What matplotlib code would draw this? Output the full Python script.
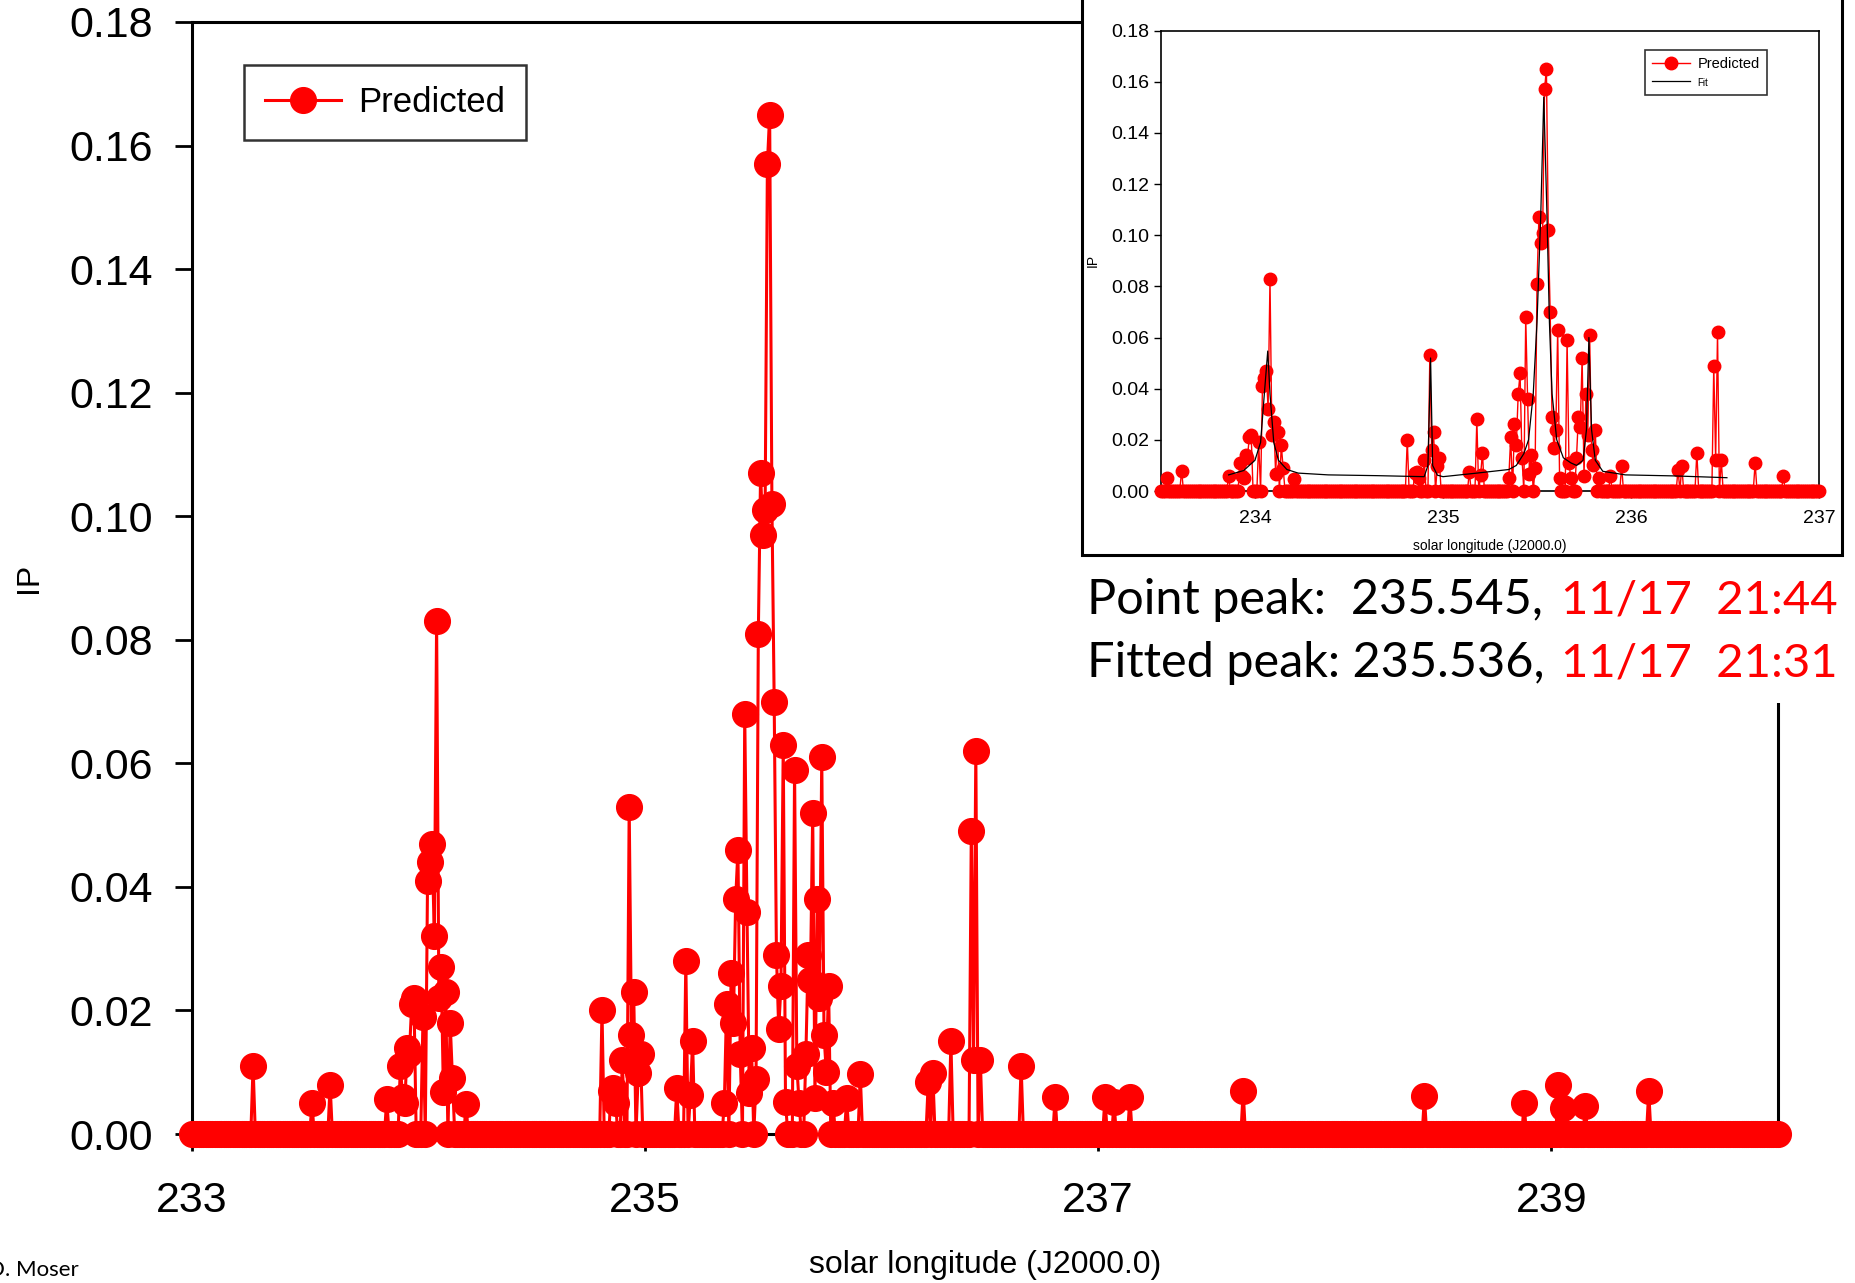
import numpy as np
import matplotlib
matplotlib.use("Agg")
import matplotlib.pyplot as plt
from matplotlib.patches import Rectangle
from matplotlib.ticker import MultipleLocator, FormatStrFormatter

# model output, sampled every 0.01 deg of solar longitude (zero where not listed)
lon_start, lon_stop, lon_step = 233.00, 240.00, 0.01

peak_lon = [233.27, 233.53, 233.61, 233.86, 233.92, 233.93, 233.94, 233.95, 233.96,
            233.97, 233.98, 234.02, 234.04, 234.05, 234.06, 234.07, 234.08, 234.09,
            234.10, 234.11, 234.12, 234.14, 234.15, 234.21,
            234.81, 234.85, 234.86, 234.87, 234.90, 234.93, 234.94, 234.95, 234.97, 234.98,
            235.14, 235.18, 235.20, 235.21,
            235.35, 235.36, 235.38, 235.39, 235.40, 235.41, 235.42, 235.44, 235.45,
            235.46, 235.47, 235.49, 235.50, 235.51, 235.52, 235.53, 235.54, 235.55,
            235.56, 235.57, 235.58, 235.59, 235.60, 235.61, 235.62, 235.66, 235.67,
            235.68, 235.71, 235.72, 235.73, 235.74, 235.75, 235.76, 235.77, 235.78,
            235.79, 235.80, 235.81, 235.83, 235.89, 235.95,
            236.25, 236.27, 236.35, 236.44, 236.45, 236.46, 236.48, 236.66, 236.81,
            237.03, 237.07, 237.14, 237.64, 238.44, 238.88, 239.03, 239.05, 239.15, 239.43]
peak_ip = [0.011, 0.005, 0.008, 0.0057, 0.011, 0.006, 0.005, 0.014, 0.013,
           0.021, 0.022, 0.019, 0.041, 0.044, 0.047, 0.032, 0.083, 0.022,
           0.027, 0.0068, 0.023, 0.018, 0.009, 0.0048,
           0.020, 0.007, 0.0074, 0.005, 0.012, 0.053, 0.016, 0.023, 0.0099, 0.013,
           0.0074, 0.028, 0.0063, 0.015,
           0.005, 0.021, 0.026, 0.018, 0.038, 0.046, 0.013, 0.068, 0.036,
           0.0066, 0.014, 0.0089, 0.081, 0.107, 0.097, 0.101, 0.157, 0.165,
           0.102, 0.070, 0.029, 0.017, 0.024, 0.063, 0.0052, 0.059, 0.011,
           0.005, 0.013, 0.029, 0.025, 0.052, 0.0058, 0.038, 0.022, 0.061,
           0.016, 0.010, 0.024, 0.005, 0.0058, 0.0097,
           0.0084, 0.0099, 0.015, 0.049, 0.012, 0.062, 0.012, 0.011, 0.006,
           0.006, 0.0052, 0.006, 0.007, 0.0061, 0.0051, 0.0079, 0.0042, 0.0045, 0.0069]

# fitted profile shown in the inset
fit_lon = [233.86, 233.94, 234.00, 234.03, 234.05, 234.068, 234.08, 234.10, 234.125,
           234.17, 234.23, 234.39, 234.65, 234.90, 234.92, 234.934, 234.945, 234.97,
           235.00, 235.18, 235.35, 235.39, 235.43, 235.455, 235.48, 235.50, 235.52,
           235.536, 235.553, 235.566, 235.58, 235.605, 235.64, 235.68, 235.71, 235.745,
           235.763, 235.776, 235.79, 235.81, 235.85, 235.97, 236.23, 236.51]
fit_ip = [0.0063, 0.008, 0.012, 0.019, 0.038, 0.0547, 0.038, 0.019, 0.012,
          0.0084, 0.007, 0.0063, 0.006, 0.0056, 0.010, 0.052, 0.010, 0.0062,
          0.0056, 0.007, 0.0084, 0.010, 0.0146, 0.020, 0.038, 0.066, 0.108,
          0.154, 0.108, 0.066, 0.038, 0.020, 0.013, 0.011, 0.010, 0.012,
          0.024, 0.060, 0.024, 0.012, 0.0077, 0.0063, 0.0059, 0.0052]

main_xticks = [233, 235, 237, 239]
inset_xlim = (233.5, 237.0)
inset_xticks = [234, 235, 236, 237]
point_peak = ("Point peak:  235.545,", "11/17  21:44")
fitted_peak = ("Fitted peak: 235.536,", "11/17  21:31")

lon = np.round(np.arange(lon_start, lon_stop + lon_step / 2, lon_step), 2)
ip = np.zeros_like(lon)
idx = np.round((np.array(peak_lon) - lon_start) / lon_step).astype(int)
ip[idx] = peak_ip

plt.rcParams['font.family'] = ['Liberation Sans', 'DejaVu Sans']

fig = plt.figure(figsize=(18.56, 12.83), dpi=100)

# main chart
ax = fig.add_axes([0.1034, 0.1161, 0.8545, 0.8668])
ax.plot(lon, ip, '-o', color='red', lw=2.2, ms=18.5, mec='red', clip_on=False,
        zorder=3, label='Predicted')
ax.set_xlim(233, 240)
ax.set_ylim(0, 0.18)
ax.set_xticks(main_xticks)
ax.xaxis.set_minor_locator(MultipleLocator(0.4))
ax.yaxis.set_major_locator(MultipleLocator(0.02))
ax.yaxis.set_major_formatter(FormatStrFormatter('%.2f'))
ax.tick_params(axis='both', which='major', direction='out', length=12, width=2,
               labelsize=31)
ax.tick_params(axis='x', which='major', pad=22)
ax.tick_params(axis='y', which='major', pad=16)
ax.tick_params(axis='x', which='minor', direction='out', length=6, width=1.2)
for s in ax.spines.values():
    s.set_linewidth(2.2)
ax.set_xlabel('solar longitude (J2000.0)', fontsize=23)
ax.xaxis.set_label_coords(0.5, -0.118)
ax.xaxis.label.set_va('center')
ax.set_ylabel('IP', fontsize=23)
ax.yaxis.set_label_coords(-0.103, 0.5)
ax.yaxis.label.set_va('center')
leg = ax.legend(loc='upper left', bbox_to_anchor=(0.0328, 0.9613), fontsize=25,
                frameon=True, fancybox=False, edgecolor='black', handlelength=2.2,
                borderpad=0.6, handletextpad=0.5, borderaxespad=0)
leg.get_frame().set_linewidth(1.8)

# white area behind the peak text and inset frame
fig.add_artist(Rectangle((0.583, 0.452), 0.417, 0.114, transform=fig.transFigure,
                         facecolor='white', edgecolor='none', zorder=3.9))
fig.add_artist(Rectangle((0.583, 0.5674), 0.4095, 0.45, transform=fig.transFigure,
                         facecolor='white', edgecolor='black', lw=2.2, zorder=4))

# inset, same model output restricted to its longitude range
in_range = (lon >= inset_xlim[0]) & (lon <= inset_xlim[1])
axin = fig.add_axes([0.6255, 0.6173, 0.3546, 0.3589])
axin.set_zorder(5)
axin.plot(lon[in_range], ip[in_range], '-o', color='red', lw=1.0, ms=9, mec='red',
          clip_on=False, zorder=3, label='Predicted')
axin.plot(fit_lon, fit_ip, '-', color='black', lw=0.9, zorder=4, label='Fit')
axin.set_xlim(*inset_xlim)
axin.set_ylim(0, 0.18)
axin.set_xticks(inset_xticks)
axin.yaxis.set_major_locator(MultipleLocator(0.02))
axin.yaxis.set_major_formatter(FormatStrFormatter('%.2f'))
axin.tick_params(axis='both', direction='out', length=5, width=1, labelsize=14)
axin.tick_params(axis='x', pad=9)
for s in axin.spines.values():
    s.set_linewidth(1.2)
axin.set_xlabel('solar longitude (J2000.0)', fontsize=10, labelpad=8)
axin.set_ylabel('IP', fontsize=10, labelpad=8)
leg2 = axin.legend(loc='upper left', bbox_to_anchor=(0.7356, 0.9577), fontsize=10.5,
                   frameon=True, fancybox=False, edgecolor='black', handlelength=2.6,
                   borderpad=0.5, handletextpad=0.5, labelspacing=0.3, borderaxespad=0)
leg2.get_frame().set_linewidth(1.2)
leg2.get_texts()[1].set_fontsize(7)

# peak text
tfont = ['Lato', 'DejaVu Sans']
fig.text(0.5857, 0.5323, point_peak[0], fontsize=35, family=tfont, va='center', zorder=6)
fig.text(0.9903, 0.5323, point_peak[1], fontsize=34, family=tfont, color='red',
         ha='right', va='center', zorder=6)
fig.text(0.5857, 0.4832, fitted_peak[0], fontsize=35, family=tfont, va='center', zorder=6)
fig.text(0.9903, 0.4832, fitted_peak[1], fontsize=34, family=tfont, color='red',
         ha='right', va='center', zorder=6)

# credit, cut off at the left edge as in the slide
fig.text(0.0426, 0.0101, 'D. Moser', fontsize=16, family=tfont, ha='right', va='center')

fig.savefig('out.png', dpi=100)
